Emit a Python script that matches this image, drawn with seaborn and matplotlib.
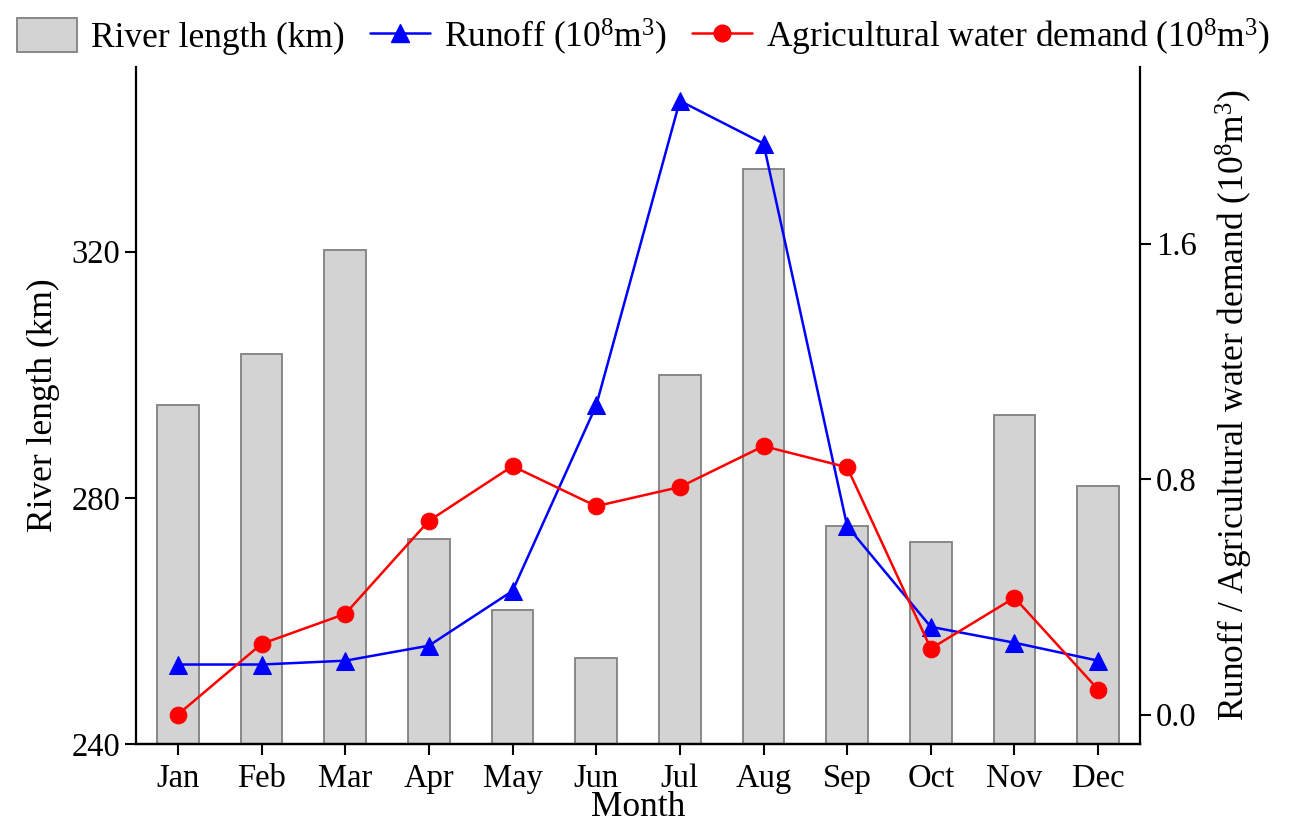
import numpy as np
import pandas as pd
import matplotlib
matplotlib.use("Agg")
import matplotlib.pyplot as plt
import seaborn as sns
from matplotlib.patches import Patch
from matplotlib.lines import Line2D

months = ["Jan", "Feb", "Mar", "Apr", "May", "Jun", "Jul", "Aug", "Sep", "Oct", "Nov", "Dec"]
river_length = [295.0, 303.4, 320.3, 273.3, 261.7, 253.9, 300.0, 333.4, 275.4, 272.8, 293.4, 282.0]
runoff = [0.17, 0.17, 0.183, 0.234, 0.42, 1.05, 2.085, 1.94, 0.64, 0.298, 0.244, 0.183]
agri_demand = [0.0, 0.24, 0.342, 0.658, 0.844, 0.708, 0.773, 0.912, 0.84, 0.224, 0.397, 0.085]

sns.set_theme(style="ticks")
plt.rcParams["font.family"] = ["Liberation Serif", "DejaVu Serif"]
plt.rcParams["mathtext.fontset"] = "custom"
plt.rcParams["mathtext.rm"] = "Liberation Serif"
plt.rcParams["mathtext.it"] = "Liberation Serif:italic"
plt.rcParams["text.color"] = "black"
plt.rcParams["axes.labelcolor"] = "black"

FS = 25.5
TFS = 23.5

df = pd.DataFrame({"Month": months, "River": river_length,
                   "pos": np.arange(len(months)), "Runoff": runoff, "Agri": agri_demand})

fig = plt.figure(figsize=(13.03, 8.23), dpi=100)
ax = fig.add_axes([0.1044, 0.096, 0.7705, 0.8226])

sns.barplot(data=df, x="Month", y="River", ax=ax, color="#d3d3d3",
            saturation=1, width=0.5, edgecolor="#808080", linewidth=1.3)
ax.set_xlim(-0.5, 11.5)
ax.set_ylim(240, 350)
ax.set_yticks([240, 280, 320])
ax.set_xlabel("Month", fontsize=FS, labelpad=-2, color="black")
ax.set_ylabel("River length (km)", fontsize=FS, labelpad=8, color="black")

ax2 = ax.twinx()
sns.lineplot(data=df, x="pos", y="Runoff", ax=ax2, color="#0000ff", marker="^",
             markersize=13, markeredgecolor="#0000ff", linewidth=1.8)
sns.lineplot(data=df, x="pos", y="Agri", ax=ax2, color="#ff0000", marker="o",
             markersize=12, markeredgecolor="#ff0000", linewidth=1.8)
ax2.set_ylim(-0.1, 2.2)
ax2.set_yticks([0.0, 0.8, 1.6])
ax2.set_yticklabels(["0.0", "0.8", "1.6"])
ax2.set_xlim(-0.5, 11.5)
ax2.set_ylabel("Runoff / Agricultural water demand (10$^8$m$^3$)", fontsize=FS,
               labelpad=12, color="black")

for a in (ax, ax2):
    a.spines["top"].set_visible(False)
    for s in a.spines.values():
        s.set_linewidth(1.6)
        s.set_color("black")
    a.tick_params(direction="out", length=8, width=1.5, labelsize=TFS,
                  colors="black", labelcolor="black")
ax.spines["right"].set_visible(False)
ax2.spines["left"].set_visible(False)
ax.tick_params(axis="x", pad=6)

handles = [
    Patch(facecolor="#d3d3d3", edgecolor="#808080", linewidth=1.3),
    Line2D([], [], color="#0000ff", marker="^", markersize=13, linewidth=1.8),
    Line2D([], [], color="#ff0000", marker="o", markersize=12, linewidth=1.8),
]
labels = ["River length (km)", "Runoff (10$^8$m$^3$)", "Agricultural water demand (10$^8$m$^3$)"]
leg = fig.legend(handles, labels, loc="center", bbox_to_anchor=(0.494, 0.955), ncol=3,
                 frameon=False, fontsize=FS, handlelength=1.7, handleheight=1.1,
                 handletextpad=0.4, columnspacing=0.7, borderaxespad=0)
for t in leg.get_texts():
    t.set_color("black")

fig.savefig("out.png", dpi=100)
